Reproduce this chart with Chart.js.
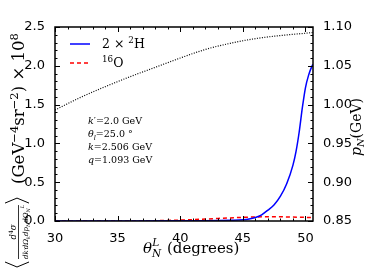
<!DOCTYPE html>
<html>
<head>
<meta charset="utf-8">
<script src="https://cdn.jsdelivr.net/npm/chart.js@4.4.1/dist/chart.umd.min.js"></script>
<style>
  html, body { margin: 0; padding: 0; background: #fff; }
  #wrap { width: 369px; height: 277px; }
</style>
</head>
<body>
<div id="wrap"><canvas id="chart" width="369" height="277"></canvas></div>
<script>
// cross sections (left axis, x 10^8)
const thetaH = [30, 35, 40, 42, 43, 44, 45, 45.5, 46, 46.5, 47, 47.5, 48, 48.5, 49, 49.25, 49.5, 49.75, 50, 50.25, 50.5, 50.6]
const sigmaH2 = [0, 0.0005, 0.002, 0.004, 0.006, 0.009, 0.015, 0.025, 0.045, 0.08, 0.14, 0.21, 0.32, 0.48, 0.72, 0.9, 1.15, 1.46, 1.72, 1.88, 1.99, 2.02]
const thetaO = [30, 36, 38, 40, 42, 44, 46, 47.5, 49, 50.6]
const sigmaO16 = [0, 0.001, 0.004, 0.012, 0.025, 0.04, 0.052, 0.055, 0.05, 0.045]
// nucleon momentum (right axis)
const thetaP = [30, 32, 34, 36, 38, 40, 42, 44, 46, 48, 50, 50.6]
const pN = [0.993, 1.009, 1.023, 1.036, 1.048, 1.06, 1.071, 1.079, 1.085, 1.089, 1.092, 1.093]

const xTicks = [30, 35, 40, 45, 50]
const yTicks = [0, 0.5, 1, 1.5, 2, 2.5]
const y2Ticks = [0.85, 0.9, 0.95, 1.0, 1.05, 1.1]

const pts = (xs, ys) => xs.map((x, i) => ({ x: x, y: ys[i] }))
const SERIF = '"DejaVu Serif", "Liberation Serif", serif'
const SANS = '"DejaVu Sans", sans-serif'

// text made of pieces, each may be italic / small / shifted
function drawRich(ctx, parts, x, y, size) {
  let cx = x
  parts.forEach((p) => {
    const s = p.small ? size * 0.7 : size
    ctx.font = (p.italic ? "italic " : "") + s + "px " + SERIF
    ctx.fillText(p.t, cx, y + (p.dy || 0))
    cx += ctx.measureText(p.t).width
  })
  return cx - x
}
function richWidth(ctx, parts, size) {
  let w = 0
  parts.forEach((p) => {
    const s = p.small ? size * 0.7 : size
    ctx.font = (p.italic ? "italic " : "") + s + "px " + SERIF
    w += ctx.measureText(p.t).width
  })
  return w
}

const decor = {
  id: "decor",
  afterDraw(chart) {
    const ctx = chart.ctx
    const a = chart.chartArea
    const xs = chart.scales.x, ys = chart.scales.y, y2 = chart.scales.y2
    ctx.save()
    ctx.strokeStyle = "#000"
    ctx.fillStyle = "#000"
    // inward ticks
    ctx.lineWidth = 1
    ctx.beginPath()
    for (let v = 30; v <= 50.6; v += 1) {
      const px = Math.round(xs.getPixelForValue(v)) + 0.5
      const L = v % 5 === 0 ? 5 : 2.5
      ctx.moveTo(px, a.bottom); ctx.lineTo(px, a.bottom - L)
      ctx.moveTo(px, a.top); ctx.lineTo(px, a.top + L)
    }
    for (let i = 0; i <= 25; i++) {
      const py = Math.round(ys.getPixelForValue(i / 10)) + 0.5
      const L = i % 5 === 0 ? 5 : 2.5
      ctx.moveTo(a.left, py); ctx.lineTo(a.left + L, py)
    }
    for (let i = 85; i <= 110; i++) {
      const py = Math.round(y2.getPixelForValue(i / 100)) + 0.5
      const L = i % 5 === 0 ? 5 : 2.5
      ctx.moveTo(a.right, py); ctx.lineTo(a.right - L, py)
    }
    ctx.stroke()
    ctx.lineWidth = 1.5
    ctx.strokeRect(a.left, a.top, a.right - a.left, a.bottom - a.top)

    // legend
    ctx.lineWidth = 1.5
    ctx.strokeStyle = "#0000ff"
    ctx.beginPath(); ctx.moveTo(70, 44); ctx.lineTo(90, 44); ctx.stroke()
    ctx.strokeStyle = "#ff0000"
    ctx.setLineDash([4, 3])
    ctx.beginPath(); ctx.moveTo(70, 63); ctx.lineTo(90, 63); ctx.stroke()
    ctx.setLineDash([])
    ctx.strokeStyle = "#000"
    ctx.textBaseline = "alphabetic"
    ctx.textAlign = "left"
    drawRich(ctx, [{ t: "2 × " }, { t: "2", small: true, dy: -5 }, { t: "H" }], 102, 48, 12.5)
    drawRich(ctx, [{ t: "16", small: true, dy: -5 }, { t: "O" }], 102, 67, 12.5)

    // kinematics notes
    const ns = 9.5
    drawRich(ctx, [{ t: "k", italic: true }, { t: "′=2.0 GeV" }], 88, 124, ns)
    drawRich(ctx, [{ t: "θ", italic: true }, { t: "l", italic: true, small: true, dy: 2.5 }, { t: "=25.0 °" }], 88, 137, ns)
    drawRich(ctx, [{ t: "k", italic: true }, { t: "=2.506 GeV" }], 88, 150, ns)
    drawRich(ctx, [{ t: "q", italic: true }, { t: "=1.093 GeV" }], 88, 163, ns)

    // x-axis title
    const xx = 143, xy = 253, xf = 15
    let xw = drawRich(ctx, [{ t: "θ", italic: true }, { t: "N", italic: true, small: true, dy: 4 }], xx, xy, xf)
    drawRich(ctx, [{ t: "L", italic: true, small: true, dy: -7 }], xx + xw - 9, xy, xf)
    drawRich(ctx, [{ t: " (degrees)" }], xx + xw + 1, xy, xf)

    // right axis title
    ctx.save()
    ctx.translate(361, 127)
    ctx.rotate(-Math.PI / 2)
    const rt = [{ t: "p", italic: true }, { t: "N", italic: true, small: true, dy: 3 }, { t: "(GeV)" }]
    const rw = richWidth(ctx, rt, 14)
    drawRich(ctx, rt, -rw / 2, 0, 14)
    ctx.restore()

    // left axis title, rotated; runs upward from y=268
    ctx.save()
    ctx.translate(22, 268)
    ctx.rotate(-Math.PI / 2)
    ctx.strokeStyle = "#000"
    ctx.lineWidth = 1
    // left angle bracket
    ctx.beginPath(); ctx.moveTo(6, -17); ctx.lineTo(1, -5); ctx.lineTo(6, 7); ctx.stroke()
    const num = [{ t: "d", italic: true }, { t: "4", small: true, dy: -3 }, { t: "σ", italic: true }]
    const den = [{ t: "dk", italic: true }, { t: "′", small: true }, { t: "d", italic: true }, { t: "Ω", italic: true }, { t: "k", italic: true, small: true, dy: 2 },
      { t: "dp", italic: true }, { t: "N", italic: true, small: true, dy: 2 }, { t: "d", italic: true }, { t: "Ω", italic: true }, { t: "N", italic: true, small: true, dy: 2 }, { t: "L", italic: true, small: true, dy: -4 }]
    let fs = 8.5
    fs = fs * 54 / richWidth(ctx, den, fs)
    const nw = richWidth(ctx, num, fs + 1.5), dw = richWidth(ctx, den, fs)
    const f0 = 9
    drawRich(ctx, num, f0 + (dw - nw) / 2, -6, fs + 1.5)
    drawRich(ctx, den, f0, 6, fs)
    ctx.lineWidth = 0.8
    ctx.beginPath(); ctx.moveTo(f0, -3.5); ctx.lineTo(f0 + dw, -3.5); ctx.stroke()
    // right angle bracket
    const rb = f0 + dw + 2
    ctx.lineWidth = 1
    ctx.beginPath(); ctx.moveTo(rb, -17); ctx.lineTo(rb + 5, -5); ctx.lineTo(rb, 7); ctx.stroke()
    const unit = [{ t: "(GeV" }, { t: "−4", small: true, dy: -6 }, { t: "sr" }, { t: "−2", small: true, dy: -6 }, { t: ") × 10" }, { t: "8", small: true, dy: -6 }]
    drawRich(ctx, unit, 84, 2, 16.5)
    ctx.restore()
    ctx.restore()
  },
}

new Chart(document.getElementById("chart"), {
  type: "line",
  data: {
    datasets: [
      {
        label: "2 × ²H",
        data: pts(thetaH, sigmaH2),
        borderColor: "#0000ff",
        borderWidth: 1.5,
        pointRadius: 0,
        cubicInterpolationMode: "monotone",
        yAxisID: "y",
      },
      {
        label: "¹⁶O",
        data: pts(thetaO, sigmaO16),
        borderColor: "#ff0000",
        borderWidth: 1.5,
        borderDash: [4, 3],
        pointRadius: 0,
        cubicInterpolationMode: "monotone",
        yAxisID: "y",
      },
      {
        label: "pN",
        data: pts(thetaP, pN),
        borderColor: "#000",
        borderWidth: 1.2,
        borderDash: [1, 1.5],
        pointRadius: 0,
        cubicInterpolationMode: "monotone",
        yAxisID: "y2",
      },
    ],
  },
  options: {
    responsive: false,
    animation: false,
    layout: { padding: { top: 27, left: 0, right: 0, bottom: 0 } },
    plugins: { legend: { display: false }, tooltip: { enabled: false } },
    scales: {
      x: {
        type: "linear",
        min: 30,
        max: 50.6,
        grid: { display: false },
        border: { display: false },
        afterBuildTicks: (s) => { s.ticks = xTicks.map((v) => ({ value: v })) },
        afterFit: (s) => { s.height = 56 },
        ticks: { color: "#000", font: { family: SANS, size: 13 }, padding: 2, maxRotation: 0 },
      },
      y: {
        position: "left",
        min: 0,
        max: 2.5,
        grid: { display: false },
        border: { display: false },
        afterBuildTicks: (s) => { s.ticks = yTicks.map((v) => ({ value: v })) },
        afterFit: (s) => { s.width = 55 },
        ticks: { color: "#000", font: { family: SANS, size: 13 }, padding: 2, callback: (v) => v.toFixed(1) },
      },
      y2: {
        position: "right",
        min: 0.85,
        max: 1.1,
        grid: { display: false },
        border: { display: false },
        afterBuildTicks: (s) => { s.ticks = y2Ticks.map((v) => ({ value: v })) },
        afterFit: (s) => { s.width = 56 },
        ticks: { color: "#000", font: { family: SANS, size: 13 }, padding: 2, callback: (v) => v.toFixed(2) },
      },
    },
  },
  plugins: [decor],
})
</script>
</body>
</html>
